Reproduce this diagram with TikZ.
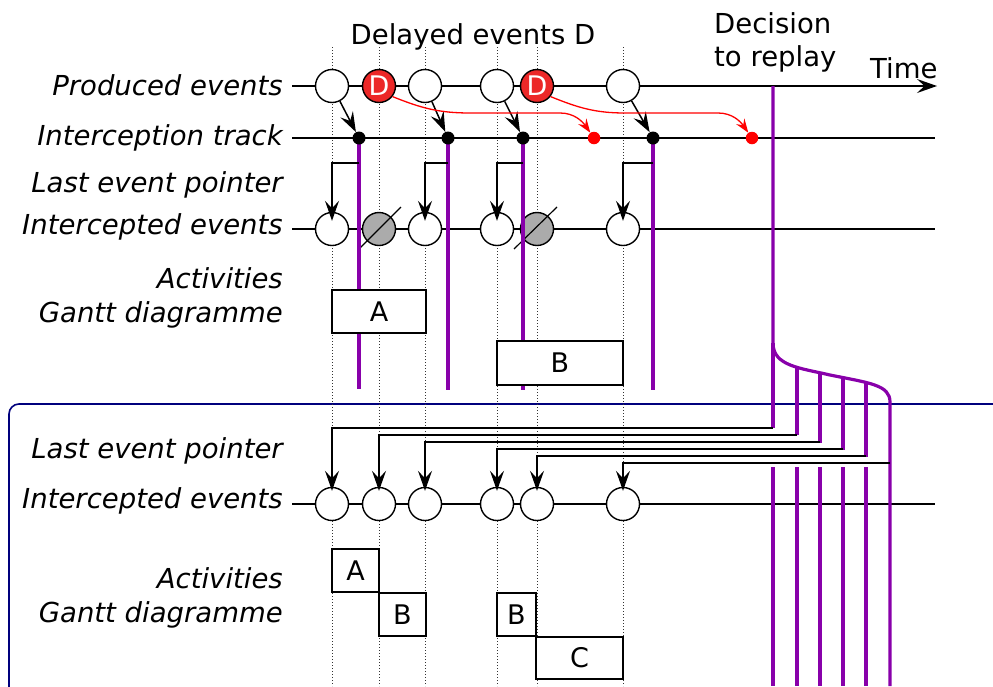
\documentclass[tikz,border=0pt]{standalone}
\usepackage{fontspec}
\setmainfont{DejaVu Sans}[ItalicFont={DejaVu Sans Oblique}]
\usetikzlibrary{arrows.meta}
\definecolor{vio}{RGB}{136,0,170}
\definecolor{dred}{RGB}{236,40,40}
\definecolor{framec}{RGB}{0,0,125}
\begin{document}
\begin{tikzpicture}[x=1pt,y=-1pt,
  ev/.style={circle, draw, fill=white, minimum size=33pt, inner sep=0pt, line width=1.4pt},
  dev/.style={ev, fill=dred, text=white, font=\fontsize{27}{27}\selectfont},
  xev/.style={ev, fill=black!33},
  bdot/.style={circle, fill=black, minimum size=13pt, inner sep=0pt},
  rdot/.style={circle, fill=red, minimum size=12.5pt, inner sep=0pt},
  lbl/.style={anchor=base east, font=\fontsize{27.5}{30}\selectfont\itshape, inner sep=0pt},
  ttl/.style={font=\fontsize{27.5}{30}\selectfont, inner sep=0pt},
  track/.style={line width=1.5pt},
  guide/.style={black!80, line width=1pt, dash pattern=on 1pt off 2pt},
  pur/.style={vio, line width=3.2pt},
  gbox/.style={draw, fill=white, line width=1.4pt, font=\fontsize{27}{27}\selectfont, inner sep=0pt},
  arr/.style={-{Stealth[length=20pt,width=14pt,inset=7.5pt]}, line width=1.5pt},
  rarr/.style={red, -{Stealth[length=14pt,width=10pt,inset=5pt]}, line width=1.3pt},
  crossl/.style={line width=1.2pt}
]
\useasboundingbox (0,0) rectangle (993,686);

% frame of the replay part
\draw[framec, line width=1.6pt, rounded corners=10pt] (9,404) rectangle (1010,700);

% dotted guides
\foreach \x in {332,379,425,497,537,623}
  \draw[guide] (\x,47) -- (\x,686);

% tracks
\coordinate (pe0) at (292,86);  \coordinate (pe1) at (937,86);
\coordinate (it0) at (292,138); \coordinate (it1) at (935,138);
\coordinate (ie0) at (292,229); \coordinate (ie1) at (935,229);
\coordinate (be0) at (292,504); \coordinate (be1) at (935,504);
\draw[track, -{Stealth[length=20pt,width=14pt,inset=7.5pt]}] (pe0) -- (pe1);
\draw[track] (it0) -- (it1);
\draw[track] (ie0) -- (ie1);
\draw[track] (be0) -- (be1);

% produced events
\node[ev] (p1) at (332,86) {};
\node[dev] (p2) at (379,86) {D};
\node[ev] (p3) at (425,86) {};
\node[ev] (p4) at (497,86) {};
\node[dev] (p5) at (537,86) {D};
\node[ev] (p6) at (623,86) {};

% intercepted events (top)
\node[ev] (i1) at (332,229) {};
\node[xev] (i2) at (379,229) {};
\node[ev] (i3) at (425,229) {};
\node[ev] (i4) at (497,229) {};
\node[xev] (i5) at (537,229) {};
\node[ev] (i6) at (623,229) {};
\draw[crossl] ([shift={(-21,21)}]i2.center) -- ([shift={(22,-22)}]i2.center);
\draw[crossl] ([shift={(-23,20)}]i5.center) -- ([shift={(20,-22)}]i5.center);

% intercepted events (bottom)
\node[ev] (b1) at (332,504) {};
\node[ev] (b2) at (379,504) {};
\node[ev] (b3) at (425,504) {};
\node[ev] (b4) at (497,504) {};
\node[ev] (b5) at (537,504) {};
\node[ev] (b6) at (623,504) {};

% interception dots positions
\coordinate (c1) at (359,138);
\coordinate (c2) at (448,138);
\coordinate (c3) at (523,138);
\coordinate (c4) at (653,138);
\coordinate (e1) at (359,389);
\coordinate (e2) at (448,390);
\coordinate (e3) at (523,390);
\coordinate (e4) at (653,390);

% purple activity lines
\draw[pur] (c1) -- (e1);
\draw[pur] (c2) -- (e2);
\draw[pur] (c3) -- (e3);
\draw[pur] (c4) -- (e4);

% decision to replay
\coordinate (dtop) at (773,86);
\coordinate (dk) at (773,343);
\coordinate (dend) at (890,402);
\draw[pur] (dtop) -- (dk) .. controls (773,366) and (800,368) .. (830,375)
  .. controls (870,383) and (890,385) .. (dend) -- (890,686);
\draw[pur] (dk) -- (773,428);
\draw[pur] (797,366) -- (797,435);
\draw[pur] (820,372) -- (820,443);
\draw[pur] (843,377) -- (843,450);
\draw[pur] (866,382) -- (866,457);
\foreach \x in {773,797,820,843,866}
  \draw[pur] (\x,467) -- (\x,686);

% Gantt top
\node[gbox, minimum width=94pt, minimum height=43pt] (gA) at (379,311.5) {A};
\node[gbox, minimum width=126pt, minimum height=44pt] (gB) at (560,363) {B};

% Gantt bottom
\node[gbox, minimum width=47pt, minimum height=43pt] (hA) at (355.5,570.5) {A};
\node[gbox, minimum width=47pt, minimum height=43pt] (hB) at (402.5,614.5) {B};
\node[gbox, minimum width=39pt, minimum height=43pt] (hB2) at (516.5,614.5) {B};
\node[gbox, minimum width=87pt, minimum height=42pt] (hC) at (579.5,658) {C};

% dots
\node[bdot] (d1) at (c1) {};
\node[bdot] (d2) at (c2) {};
\node[bdot] (d3) at (c3) {};
\node[bdot] (d4) at (c4) {};
\node[rdot] (r1) at (594,138) {};
\node[rdot] (r2) at (752,138) {};

% interception arrows
\draw[arr] (p1) -- (d1);
\draw[arr] (p3) -- (d2);
\draw[arr] (p4) -- (d3);
\draw[arr] (p6) -- (d4);

% delayed arrows
\draw[rarr] (p2.-38) to[out=-22,in=180] (470,113) -- (560,113) to[out=0,in=125] (r1);
\draw[rarr] (p5.-38) to[out=-22,in=180] (625,113) -- (718,113) to[out=0,in=125] (r2);

% last event pointers (top)
\draw[arr] (359,163) -- (332,163) -- ([yshift=-9pt]i1.north);
\draw[arr] (448,163) -- (425,163) -- ([yshift=-9pt]i3.north);
\draw[arr] (523,163) -- (497,163) -- ([yshift=-9pt]i4.north);
\draw[arr] (653,163) -- (623,163) -- ([yshift=-9pt]i6.north);

% last event pointers (replay)
\draw[arr] (773,428) -- (332,428) -- ([yshift=-4pt]b1.north);
\draw[arr] (797,435) -- (379,435) -- ([yshift=-4pt]b2.north);
\draw[arr] (820,442) -- (425,442) -- ([yshift=-4pt]b3.north);
\draw[arr] (843,449) -- (497,449) -- ([yshift=-4pt]b4.north);
\draw[arr] (866,456) -- (537,456) -- ([yshift=-4pt]b5.north);
\draw[arr] (890,463) -- (623,463) -- ([yshift=-4pt]b6.north);

% labels
\node[lbl] (l1) at (283,95) {Produced events};
\node[lbl] (l2) at (283,145) {Interception track};
\node[lbl] (l3) at (283,192) {Last event pointer};
\node[lbl] (l4) at (283,234) {Intercepted events};
\node[lbl] (l5) at (283,288) {Activities};
\node[lbl] (l6) at (283,322) {Gantt diagramme};
\node[lbl] (m3) at (283,458) {Last event pointer};
\node[lbl] (m4) at (283,508) {Intercepted events};
\node[lbl] (m5) at (283,588) {Activities};
\node[lbl] (m6) at (283,622) {Gantt diagramme};

\node[ttl, anchor=base] (tD) at (473,44) {Delayed events D};
\node[ttl, anchor=base west] (tR1) at (714,33) {Decision};
\node[ttl, anchor=base west] (tR2) at (714,66) {to replay};
\node[ttl, anchor=base west] (tT) at (870,78) {Time};
\end{tikzpicture}
\end{document}
